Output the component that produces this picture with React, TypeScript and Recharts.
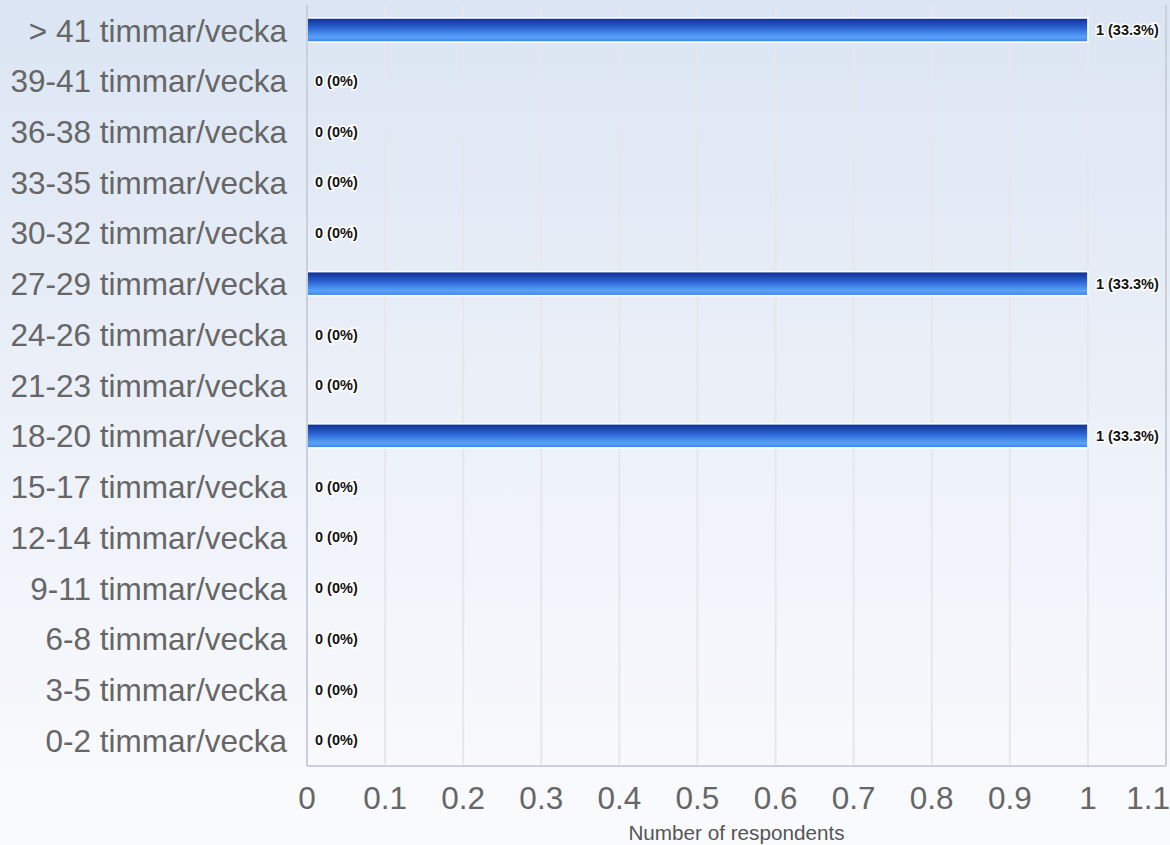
import { BarChart, Bar, XAxis, YAxis, CartesianGrid, LabelList, ReferenceLine } from 'recharts';

// --- data ---
const categories = [
  '> 41 timmar/vecka',
  '39-41 timmar/vecka',
  '36-38 timmar/vecka',
  '33-35 timmar/vecka',
  '30-32 timmar/vecka',
  '27-29 timmar/vecka',
  '24-26 timmar/vecka',
  '21-23 timmar/vecka',
  '18-20 timmar/vecka',
  '15-17 timmar/vecka',
  '12-14 timmar/vecka',
  '9-11 timmar/vecka',
  '6-8 timmar/vecka',
  '3-5 timmar/vecka',
  '0-2 timmar/vecka',
];
const respondents = [1, 0, 0, 0, 0, 1, 0, 0, 1, 0, 0, 0, 0, 0, 0];
const xTicks = [0, 0.1, 0.2, 0.3, 0.4, 0.5, 0.6, 0.7, 0.8, 0.9, 1, 1.1];

const total = respondents.reduce((a, b) => a + b, 0);
const data = categories.map((name, i) => ({ name, count: respondents[i] }));

const FONT = '"Liberation Sans", Arial, Helvetica, sans-serif';
const BORDER = '#c9d0dc';

function fmtLabel(v: any) {
  const n = Number(v);
  const pct = n === 0 ? '0%' : ((n / total) * 100).toFixed(1) + '%';
  return `${n} (${pct})`;
}

// zero bars keep a tiny rect so their labels are drawn, but nothing visible
function BarShape(props: any) {
  const { x, y, width, height } = props;
  if (!width || width < 1) return <g />;
  return (
    <rect x={x} y={y} width={width} height={height} fill="url(#barFill)" stroke="#ffffff" strokeWidth={1.5} />
  );
}

export default function App() {
  return (
    <div
      style={{
        position: 'absolute',
        left: 0,
        top: 0,
        width: 1170,
        height: 845,
        background: 'linear-gradient(to bottom, #dbe5f3 0%, #eef2f9 55%, #fafbfd 100%)',
        fontFamily: FONT,
      }}
    >
      <BarChart
        width={1170}
        height={845}
        data={data}
        layout="vertical"
        margin={{ top: 5, right: 4, bottom: 0, left: 0 }}
        barCategoryGap={0}
      >
        <defs>
          <linearGradient id="barFill" x1="0" y1="0" x2="0" y2="1">
            <stop offset="0%" stopColor="#0d2c8e" />
            <stop offset="40%" stopColor="#2a62d0" />
            <stop offset="80%" stopColor="#58a3fb" />
            <stop offset="100%" stopColor="#3b80e2" />
          </linearGradient>
        </defs>
        <CartesianGrid horizontal={false} stroke="#e6e7ea" strokeWidth={2} />
        <XAxis
          type="number"
          domain={[0, 1.1]}
          ticks={xTicks}
          allowDataOverflow
          tickLine={false}
          tickSize={0}
          tickMargin={21}
          height={79}
          axisLine={{ stroke: BORDER, strokeWidth: 2 }}
          tick={{ fill: '#666666', fontSize: 31.5, fontFamily: FONT }}
          label={{
            value: 'Number of respondents',
            position: 'insideBottom',
            offset: 5,
            fill: '#555555',
            fontSize: 20.7,
            fontFamily: FONT,
          }}
        />
        <XAxis
          xAxisId="top"
          type="number"
          orientation="top"
          domain={[0, 1.1]}
          height={0}
          tick={false}
          tickLine={false}
          axisLine={{ stroke: BORDER, strokeWidth: 2 }}
        />
        <YAxis
          type="category"
          dataKey="name"
          width={307}
          tickLine={false}
          tickSize={0}
          tickMargin={20}
          interval={0}
          axisLine={{ stroke: BORDER, strokeWidth: 2 }}
          tick={{ fill: '#666666', fontSize: 31.5, fontFamily: FONT }}
        />
        <ReferenceLine x={1.1} stroke={BORDER} strokeWidth={2} />
        <Bar
          dataKey="count"
          barSize={24}
          minPointSize={0.01}
          shape={BarShape}
          fill="url(#barFill)"
          isAnimationActive={false}
        >
          <LabelList
            dataKey="count"
            position="right"
            offset={8}
            formatter={fmtLabel}
            style={{
              fill: '#111111',
              fontSize: 14.5,
              fontWeight: 'bold',
              fontFamily: FONT,
              stroke: '#ffffff',
              strokeWidth: 3,
              paintOrder: 'stroke',
            }}
          />
        </Bar>
      </BarChart>
    </div>
  );
}
